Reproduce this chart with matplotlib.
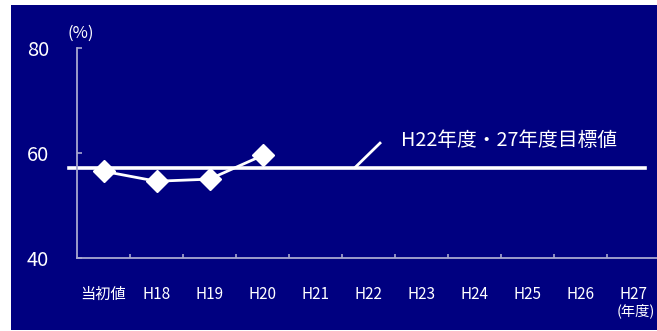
import matplotlib
matplotlib.use("Agg")
import matplotlib.pyplot as plt
from matplotlib.patches import Rectangle

plt.rcParams['font.family'] = ['Noto Sans CJK JP', 'DejaVu Sans']

categories = ['当初値', 'H18', 'H19', 'H20', 'H21', 'H22', 'H23', 'H24', 'H25', 'H26', 'H27']
values = [56.5, 54.6, 55.0, 59.5]
target = 57.2
target_label = 'H22年度・27年度目標値'
y_ticks = [40, 60, 80]
y_unit = '(%)'
x_unit = '(年度)'

navy = '#000080'
axis_col = '#A8A8D0'
W, H = 657, 331
fig = plt.figure(figsize=(W / 100, H / 100), dpi=100)
fig.patch.set_facecolor('white')
fig.patches.append(Rectangle((11 / W, 1 / H), 646 / W, 325 / H, transform=fig.transFigure,
                             facecolor=navy, edgecolor='none', zorder=-10))

ax = fig.add_axes([77 / W, 73 / H, 583 / W, 210.3 / H])
ax.set_zorder(5)
ax.set_facecolor('none')
n = len(categories)
ax.set_xlim(-0.5, n - 0.5)
ax.set_ylim(y_ticks[0], y_ticks[-1])

for s in ['top', 'right']:
    ax.spines[s].set_visible(False)
for s in ['left', 'bottom']:
    ax.spines[s].set_color(axis_col)
    ax.spines[s].set_linewidth(1.3)

ax.set_yticks(y_ticks)
ax.set_yticklabels([str(v) for v in y_ticks])
ax.tick_params(axis='y', direction='in', length=3.5, width=1.2, color=axis_col,
               labelcolor='white', labelsize=14.5, pad=20)

ax.set_xticks(range(n))
ax.set_xticklabels(categories)
ax.set_xticks([i + 0.5 for i in range(n)], minor=True)
ax.tick_params(axis='x', which='major', length=0, labelcolor='white', labelsize=11, pad=20)
ax.tick_params(axis='x', which='minor', direction='in', length=3, width=1.2, color=axis_col)

# target line
ax.plot([-0.65, n - 0.78], [target, target], color='white', lw=2.6, clip_on=False, zorder=2)
# data series
ax.plot(range(len(values)), values, color='white', lw=2, marker='D', markersize=11,
        markerfacecolor='white', markeredgecolor='white', clip_on=False, zorder=3)

# leader line + label
ax.plot([4.745, 5.217], [target, 61.85], color='white', lw=2, clip_on=False)
ax.text(5.613, 62.4, target_label, color='white', fontsize=14.2, va='center', ha='left')

ax.text(-0.67, 82.8, y_unit, color='white', fontsize=12, va='center', ha='left', clip_on=False)
ax.text(9.69, 30.0, x_unit, color='white', fontsize=10.3, va='center', ha='left', clip_on=False)

fig.savefig('out.png', dpi=100)
